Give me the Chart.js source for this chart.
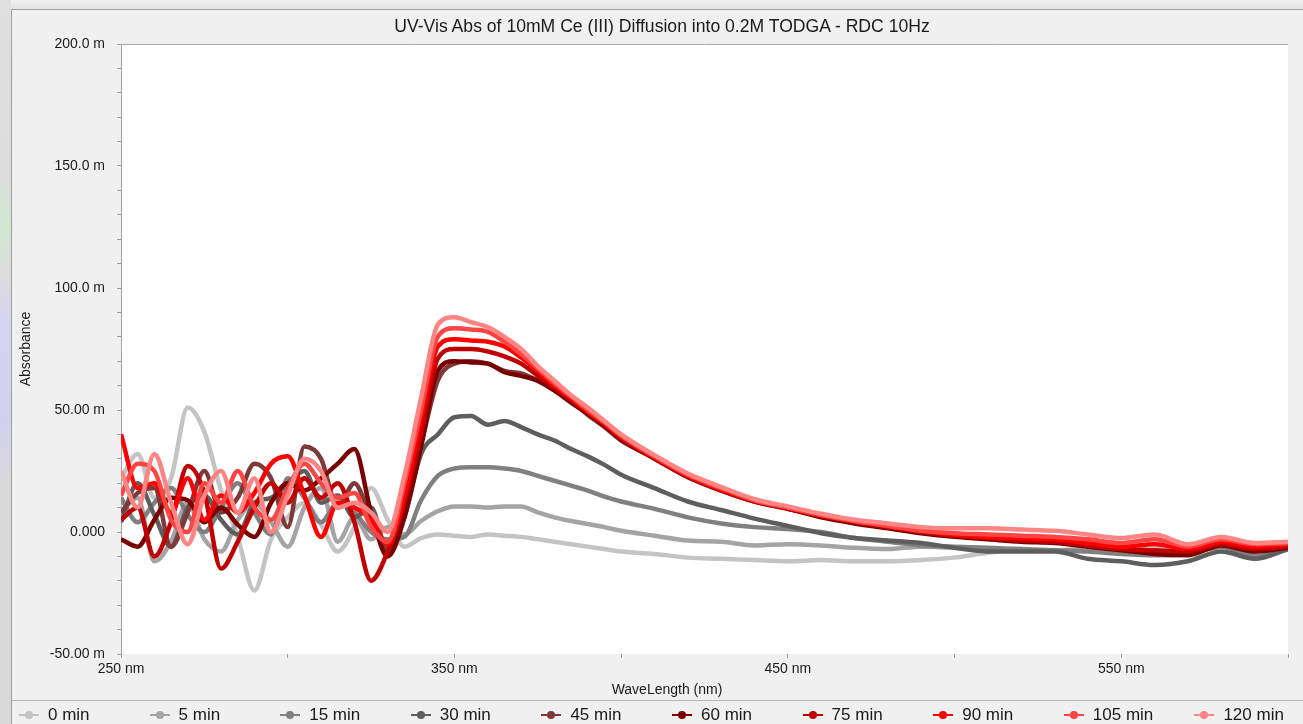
<!DOCTYPE html>
<html>
<head>
<meta charset="utf-8">
<script src="https://cdn.jsdelivr.net/npm/chart.js@4.4.0/dist/chart.umd.min.js"></script>
<style>
  body {
    margin: 0; width: 1303px; height: 724px; overflow: hidden; position: relative;
    background: linear-gradient(180deg, #f0f0f0 0px, #e2e2e2 9px);
    font-family: "Liberation Sans", Arial, sans-serif; color: #1a1a1a;
  }
  #desk {
    position: absolute; left: 0; top: 0; width: 11px; height: 724px;
    background: linear-gradient(180deg, #e0e0e0 0%, #dcdcdc 24%, #d2e6d2 31%, #dcdcdc 38%,
      #d4d4f2 45%, #d0d0ee 58%, #dadada 68%, #d9d9d9 100%);
  }
  #panel {
    position: absolute; left: 11px; top: 9px; right: 0; bottom: 0;
    background: #f0f0f0; border-left: 1px solid #a0a0a0; border-top: 1px solid #a0a0a0;
  }
  #chart { position: absolute; left: 0; top: 0; }
  .caption { position: absolute; text-align: center; white-space: nowrap; }
  #title { top: 16px; left: 0; width: 1324px; font-size: 17.6px; line-height: 20px; }
  #xtitle { top: 681px; left: 0; width: 1334px; font-size: 14px; line-height: 16px; }
  #legend {
    position: absolute; left: 12px; right: 0; top: 700px; height: 24px;
    border-top: 1px solid #b8b8b8;
  }
  .item { position: absolute; top: 3px; height: 22px; font-size: 17px; line-height: 22px; white-space: nowrap; }
  .mark { position: absolute; top: 10px; width: 20px; height: 2px; }
  .dot { position: absolute; top: -3px; left: 6px; width: 8px; height: 8px; border-radius: 50%; }
</style>
</head>
<body>
<div id="desk"></div>
<div id="panel"></div>
<canvas id="chart" width="1303" height="700"></canvas>
<div id="title" class="caption">UV-Vis Abs of 10mM Ce (III) Diffusion into 0.2M TODGA - RDC 10Hz</div>
<div id="xtitle" class="caption">WaveLength (nm)</div>
<div id="legend"></div>
<script>
// wavelength grid (nm)
const wavelengths = [
  250, 255, 260, 265, 270, 275, 280, 285, 290, 295, 300, 305, 310, 315, 320, 325,
  330, 335, 340, 345, 350, 355, 360, 365, 370, 375, 380, 385, 390, 395, 400,
  410, 420, 430, 440, 450, 460, 470, 480, 490, 500, 510, 520, 530, 540, 550,
  560, 570, 580, 590, 600
];

// absorbance in mAU, one array per sampling time
const min0 = [
  22, 32, 14, 22, 51, 41, 17, -2, -24, -3, 6, 12, 3, -8, 2, 18,
  5, -6, -2.5, -1, -1.5, -2, -1, -1.5, -2, -3, -4, -5, -6, -7, -8,
  -9, -10.5, -11, -11.5, -12, -11.5, -12, -12, -11.5, -10.5, -8.5, -7.5, -7.5, -7, -7.5,
  -7, -8, -5.5, -8, -6
];
const min5 = [
  8, 14, -12, -4, 12, -3, -8, 5, 12, 4, -6, 10, 18, -4, 6, -3,
  2, -1, 4.5, 8.5, 10.5, 10.5, 10, 10.5, 10.5, 8, 6, 4.5, 3.3, 2, 0.5,
  -1.5, -3.5, -4, -5.5, -5, -5.5, -6.5, -7, -6, -6.5, -7.5, -7.5, -7.5, -7, -7.5,
  -8, -8.5, -6, -9, -6.5
];
const min15 = [
  14, 4, 12, 18, 7, 0, 10, 20, 8, -1, 22, 14, 4, 12, 8, 0,
  -3, -2, 13, 23, 26, 26.5, 26.5, 26, 25, 23, 21, 19, 17, 14.5, 12.5,
  9.5, 6, 3.5, 2, 1.2, 0, -2.5, -4, -5.5, -6, -6.5, -7, -7.5, -8, -9,
  -9.5, -9, -6, -10, -7
];
const min30 = [
  4, 20, 7, -6, 10, 15, 5, -1, 12, 14, 20, 25, 12, 15, 6, 10,
  -8, 6, 32, 40, 47, 47.5, 44, 45.5, 43, 40, 37.5, 34, 31, 27.5, 23.5,
  18, 12.5, 9, 5.5, 2.5, -0.5, -2.5, -3.5, -4.5, -6.5, -8, -8, -8, -11, -12,
  -13.5, -12, -8, -11, -7
];
const min45 = [
  8, 16, 18, -6, 8, 25, 8, 14, 28, 22, 2, 35, 30, 10, 20, 5,
  -7, 10, 36, 62, 69, 70, 69, 66, 65, 62, 58, 53.5, 48, 43, 37.5,
  30.5, 23, 17.5, 13, 10, 6.5, 4, 2, 0, -1.5, -2.5, -3.5, -4, -5.5, -7,
  -8.5, -9, -5, -7.5, -6
];
const min60 = [
  -3, -6, 5, 14, 13, 4, 10, 3, -2, 12, 20, 17, 22, 28, 34, 8,
  -10, 6, 35, 66, 70, 69.5, 69, 65.5, 64, 62, 58, 53, 48.5, 43.5, 38,
  30, 22.5, 17, 12.5, 9.5, 6, 3.5, 1.5, -0.5, -2, -3, -4, -4.5, -6, -7.5,
  -9, -9.5, -5.5, -8, -6.5
];
const min75 = [
  5, 10, -10, 4, 27, 16, -15, -4, 10, 20, 12, 22, 14, 20, 4, -20,
  -8, 12, 40, 71, 75, 75, 74, 72, 69, 64, 59, 54, 49, 44, 38.5,
  30.5, 23, 17, 12.5, 9.5, 6.5, 4, 2, 0, -1.5, -2.5, -3.5, -4, -5.5, -7,
  -7.5, -8, -5, -7, -6
];
const min90 = [
  40, 18, 20, 8, 22, 5, 15, 8, 16, 28, 31, 15, -2, 12, 10, 5,
  -5, 15, 46, 76, 79, 78.5, 78, 76, 71.5, 66, 60, 55, 49.5, 44.5, 39,
  30.5, 23, 17.5, 13, 10, 7, 4.5, 2.5, 0.5, -1, -2, -2.5, -3, -4.5, -6,
  -5, -7, -4, -6, -5
];
const min105 = [
  15, 28, 25, 5, 0, 20, 12, 25, 10, 5, 18, 28, 20, 14, 16, 2,
  -4, 20, 50, 80, 83.5, 83, 82, 78, 73, 67, 61, 55.5, 50, 45, 39.5,
  31, 23.5, 18, 13, 10, 7, 4.5, 2.5, 0.5, -0.5, -1, -1.5, -2, -3, -4.5,
  -3, -6, -3, -5, -4.5
];
const min120 = [
  25, 10, 32, 12, -5, 15, 25, 8, 22, 0, 15, 30, 25, 10, 12, 8,
  0, 23, 55, 85, 88, 86, 84, 80, 75, 68, 62, 56, 51, 45.5, 40,
  31.5, 24, 18.5, 13.5, 10.5, 7.5, 5, 3.5, 2, 1.5, 1.5, 1, 0.5, -1, -2.5,
  -1, -5, -2, -4.5, -4
];

const seriesLabels = ['0 min', '5 min', '15 min', '30 min', '45 min', '60 min', '75 min', '90 min', '105 min', '120 min'];
const seriesValues = [min0, min5, min15, min30, min45, min60, min75, min90, min105, min120];
const seriesColors = ['#c4c4c4', '#a4a4a4', '#808080', '#5e5e5e', '#7e3a3a', '#7a0000', '#c00000', '#ff0000', '#ff4444', '#ff8484'];

const yTickValues = [-50, 0, 50, 100, 150, 200];
const yTickLabels = ['-50.00 m', '0.000', '50.00 m', '100.0 m', '150.0 m', '200.0 m'];
const xTickValues = [250, 350, 450, 550];
const xTickLabels = ['250 nm', '350 nm', '450 nm', '550 nm'];

// white plot area with a thin top edge
const plotFrame = {
  id: 'plotFrame',
  beforeDraw(chart) {
    const { ctx, chartArea: a } = chart;
    ctx.save();
    ctx.fillStyle = '#ffffff';
    ctx.fillRect(a.left, a.top, a.right - a.left, a.bottom - a.top);
    ctx.strokeStyle = '#a8a8a8';
    ctx.lineWidth = 1;
    ctx.beginPath();
    ctx.moveTo(a.left, a.top + 0.5);
    ctx.lineTo(a.right, a.top + 0.5);
    ctx.stroke();
    ctx.restore();
  }
};

const datasets = seriesValues.map((vals, i) => ({
  label: seriesLabels[i],
  data: wavelengths.map((w, j) => ({ x: w, y: vals[j] })),
  borderColor: seriesColors[i],
  backgroundColor: seriesColors[i],
  borderWidth: 4.5,
  pointRadius: 0,
  cubicInterpolationMode: 'monotone',
  order: seriesLabels.length - i
}));

const tickFont = { family: '"Liberation Sans", Arial, sans-serif', size: 14 };

new Chart(document.getElementById('chart'), {
  type: 'line',
  data: { datasets },
  options: {
    responsive: false,
    animation: false,
    events: [],
    layout: { padding: { left: 0, right: 15, top: 44, bottom: 0 } },
    plugins: {
      legend: { display: false },
      title: { display: false },
      tooltip: { enabled: false }
    },
    scales: {
      x: {
        type: 'linear',
        min: 250,
        max: 600,
        afterFit: (scale) => { scale.height = 46; },
        border: { display: false },
        grid: { drawOnChartArea: false, tickLength: 4, color: '#a0a0a0' },
        ticks: {
          stepSize: 50,
          autoSkip: false,
          maxRotation: 0,
          padding: 3,
          color: '#1a1a1a',
          font: tickFont,
          callback: (v) => {
            const k = xTickValues.indexOf(Math.round(v));
            return k < 0 ? '' : xTickLabels[k];
          }
        }
      },
      y: {
        min: -50,
        max: 200,
        afterFit: (scale) => { scale.width = 121; },
        border: { display: true, color: '#a0a0a0' },
        grid: { drawOnChartArea: false, tickLength: 4, color: '#a0a0a0' },
        title: {
          display: true,
          text: 'Absorbance',
          color: '#1a1a1a',
          font: tickFont,
          padding: { top: 18, bottom: 0 }
        },
        ticks: {
          stepSize: 10,
          autoSkip: false,
          padding: 12,
          color: '#1a1a1a',
          font: tickFont,
          callback: (v) => {
            const k = yTickValues.indexOf(Math.round(v));
            return k < 0 ? '' : yTickLabels[k];
          }
        }
      }
    }
  },
  plugins: [plotFrame]
});

// legend row: line-and-dot marker followed by the series label
const legend = document.getElementById('legend');
seriesLabels.forEach((label, i) => {
  const cx = 29 + 130.6 * i - 12;
  const item = document.createElement('div');
  item.className = 'item';
  item.style.left = (cx - 10) + 'px';
  const mark = document.createElement('div');
  mark.className = 'mark';
  mark.style.background = seriesColors[i];
  const dot = document.createElement('div');
  dot.className = 'dot';
  dot.style.background = seriesColors[i];
  mark.appendChild(dot);
  const text = document.createElement('span');
  text.textContent = label;
  text.style.marginLeft = '29px';
  item.appendChild(mark);
  item.appendChild(text);
  legend.appendChild(item);
});
</script>
</body>
</html>
